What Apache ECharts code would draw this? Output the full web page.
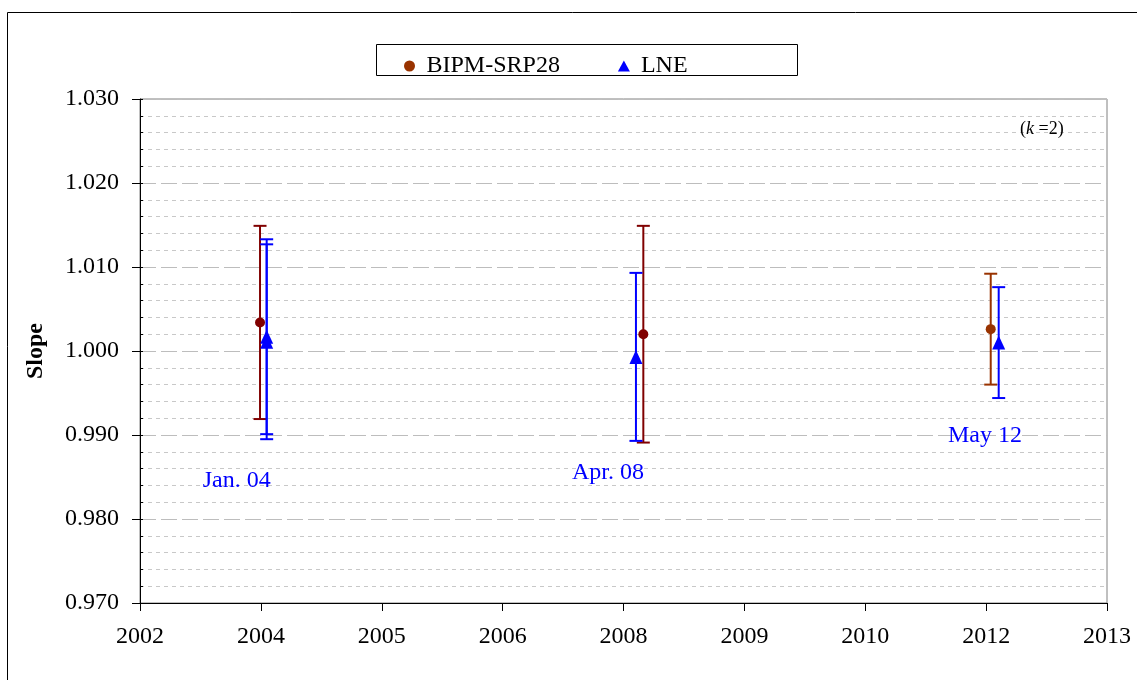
<!DOCTYPE html>
<html>
<head>
<meta charset="utf-8">
<script src="https://cdn.jsdelivr.net/npm/echarts@6/dist/echarts.min.js"></script>
<style>
  html, body { margin: 0; padding: 0; background: #fff; }
  #main { width: 1137px; height: 680px; }
</style>
</head>
<body>
<div id="main"></div>
<script>
(function() {
  // x axis runs in tick steps, labels as printed on the original
  const xTickLabels = ['2002', '2004', '2005', '2006', '2008', '2009', '2010', '2012', '2013'];

  // BIPM-SRP28 : slope and expanded uncertainty (k=2)
  const bipmX = [0.993, 4.164, 7.038];
  const bipmSlope = [1.0034, 1.0020, 1.0026];
  const bipmU = [0.0115, 0.0129, 0.0066];

  // LNE (two overlapping results in Jan. 04)
  const lneX = [1.048, 1.048, 4.103, 7.104];
  const lneSlope = [1.0017, 1.0011, 0.9993, 1.0010];
  const lneU = [0.0116, 0.0116, 0.0100, 0.0066];

  // comparison dates
  const dateNames = ['Jan. 04', 'Apr. 08', 'May 12'];
  const dateX = [0.80, 3.872, 6.99];
  const dateY = [0.98455, 0.98556, 0.98988];

  const bipmColors = ['#800000', '#800000', '#993300'];
  const lneColor = '#0000ff';
  const font = '"Liberation Serif", "Times New Roman", serif';

  const myChart = echarts.init(document.getElementById('main'));

  function barShape(top, bot, color) {
    const half = 6.5;
    const st = { stroke: color, lineWidth: 2 };
    return {
      type: 'group',
      children: [
        { type: 'line', shape: { x1: top[0], y1: top[1], x2: bot[0], y2: bot[1] }, style: st },
        { type: 'line', shape: { x1: top[0] - half, y1: top[1], x2: top[0] + half, y2: top[1] }, style: st },
        { type: 'line', shape: { x1: bot[0] - half, y1: bot[1], x2: bot[0] + half, y2: bot[1] }, style: st }
      ]
    };
  }

  function bipmBarRender(params, api) {
    const x = api.value(0);
    return barShape(api.coord([x, api.value(2)]), api.coord([x, api.value(1)]), bipmColors[params.dataIndex]);
  }

  function lneBarRender(params, api) {
    const x = api.value(0);
    return barShape(api.coord([x, api.value(2)]), api.coord([x, api.value(1)]), lneColor);
  }

  const bipmBars = bipmX.map(function (x, i) {
    return [x, bipmSlope[i] - bipmU[i], bipmSlope[i] + bipmU[i]];
  });
  const bipmPoints = bipmX.map(function (x, i) {
    return { value: [x, bipmSlope[i]], itemStyle: { color: bipmColors[i] } };
  });
  const lneBars = lneX.map(function (x, i) {
    return [x, lneSlope[i] - lneU[i], lneSlope[i] + lneU[i]];
  });
  const lnePoints = lneX.map(function (x, i) {
    return [x, lneSlope[i]];
  });
  const dateLabels = dateNames.map(function (n, i) {
    return { name: n, value: [dateX[i], dateY[i]] };
  });

  const option = {
    animation: false,
    textStyle: { fontFamily: font },
    grid: {
      left: 140, right: 30, top: 99, bottom: 77,
      show: true, borderColor: '#808080', borderWidth: 1, backgroundColor: 'transparent'
    },
    graphic: [
      { type: 'rect', shape: { x: 7.5, y: 12.5, width: 1200, height: 720 },
        style: { fill: 'none', stroke: '#000', lineWidth: 1 }, silent: true, z: -1 },
      { type: 'rect', shape: { x: 376.5, y: 44.5, width: 421, height: 31 },
        style: { fill: '#fff', stroke: '#000', lineWidth: 1 }, silent: true, z: 1 },
      { type: 'text', left: 1020, top: 120,
        style: {
          text: '({i|k} =2)',
          fill: '#000',
          font: '18px ' + font,
          rich: { i: { fontStyle: 'italic', fontSize: 18, fontFamily: font } }
        }, z: 5 }
    ],
    legend: {
      left: 399, top: 49, z: 10, padding: 5,
      itemWidth: 12, itemHeight: 11, itemGap: 58,
      textStyle: { fontSize: 24, color: '#000', fontFamily: font, padding: [0, 0, 0, 6] },
      data: [
        { name: 'BIPM-SRP28', icon: 'circle', itemStyle: { color: '#993300' } },
        { name: 'LNE', icon: 'triangle', itemStyle: { color: lneColor } }
      ]
    },
    xAxis: {
      type: 'value', min: 0, max: 8, interval: 1,
      axisLine: { lineStyle: { color: '#000', width: 1 } },
      axisTick: { length: 8, lineStyle: { color: '#000' } },
      axisLabel: {
        margin: 22, fontSize: 24, color: '#000', fontFamily: font,
        formatter: function (v) { return xTickLabels[Math.round(v)]; }
      },
      splitLine: { show: false }
    },
    yAxis: [{
      type: 'value', min: 0.97, max: 1.03, interval: 0.01,
      name: 'Slope', nameLocation: 'middle', nameRotate: 90, nameGap: 92,
      nameTextStyle: { fontSize: 24, fontWeight: 'bold', color: '#000', fontFamily: font },
      axisLine: { show: true, lineStyle: { color: '#000', width: 1 } },
      axisTick: { show: true, length: 8, lineStyle: { color: '#000' } },
      axisLabel: {
        margin: 21, fontSize: 24, color: '#000', fontFamily: font,
        formatter: function (v) { return v.toFixed(3); }
      },
      splitLine: { show: true, lineStyle: { color: '#bdbdbd', type: [16, 5], width: 1 } },
      minorTick: { show: false, splitNumber: 5 },
      minorSplitLine: { show: true, lineStyle: { color: '#c8c8c8', type: [4, 4], width: 1 } }
    }, {
      type: 'value', min: 0.97, max: 1.03, interval: 0.002, position: 'left',
      axisLine: { show: false },
      axisTick: { show: true, inside: true, length: 3, lineStyle: { color: '#000' } },
      axisLabel: { show: false },
      splitLine: { show: false }
    }],
    series: [
      {
        name: 'BIPM-SRP28 U', type: 'custom', renderItem: bipmBarRender,
        encode: { x: 0, y: [1, 2] }, data: bipmBars, z: 3
      },
      {
        name: 'LNE U', type: 'custom', renderItem: lneBarRender,
        encode: { x: 0, y: [1, 2] }, data: lneBars, z: 4
      },
      {
        name: 'BIPM-SRP28', type: 'scatter', symbol: 'circle', symbolSize: 10,
        itemStyle: { color: '#993300', opacity: 1 }, data: bipmPoints, z: 5
      },
      {
        name: 'LNE', type: 'scatter', symbol: 'triangle', symbolSize: [13, 14],
        itemStyle: { color: lneColor, opacity: 1 }, data: lnePoints, z: 6
      },
      {
        name: 'dates', type: 'scatter', symbolSize: 1, silent: true,
        itemStyle: { color: 'rgba(0,0,0,0)', opacity: 1 },
        label: {
          show: true, position: 'inside', formatter: '{b}',
          fontSize: 24, color: lneColor, opacity: 1, fontFamily: font
        },
        data: dateLabels, z: 7
      }
    ]
  };

  myChart.setOption(option);
})();
</script>
</body>
</html>
